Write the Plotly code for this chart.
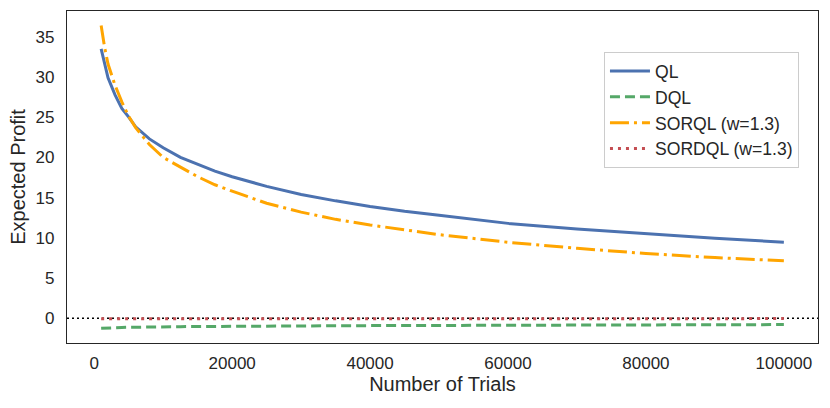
import plotly.graph_objects as go

trials = [1000, 1500, 2000, 3000, 4000, 5000, 6000, 8000, 10000, 12500, 15000, 17500,
          20000, 25000, 30000, 35000, 40000, 45000, 50000, 60000, 70000, 80000, 90000, 100000]
ql = [33.5, 31.5, 29.9, 27.8, 26.1, 25.0, 23.8, 22.3, 21.2, 20.0, 19.1, 18.3,
      17.6, 16.4, 15.4, 14.6, 13.9, 13.3, 12.8, 11.8, 11.1, 10.5, 9.95, 9.45]
dql = [-1.25, -1.22, -1.2, -1.17, -1.14, -1.12, -1.1, -1.08, -1.06, -1.04, -1.02, -1.0,
       -0.99, -0.97, -0.95, -0.93, -0.91, -0.9, -0.88, -0.86, -0.84, -0.82, -0.8, -0.78]
sorql = [36.4, 33.7, 31.6, 29.0, 26.9, 25.1, 23.7, 21.6, 20.0, 18.8, 17.6, 16.6,
         15.8, 14.3, 13.2, 12.3, 11.6, 11.0, 10.4, 9.45, 8.7, 8.05, 7.55, 7.15]
sordql = [-0.05, -0.05, -0.05, -0.05, -0.04, -0.04, -0.04, -0.04, -0.04, -0.04, -0.04, -0.04,
          -0.04, -0.04, -0.04, -0.04, -0.04, -0.04, -0.04, -0.04, -0.04, -0.04, -0.04, -0.04]

x_ticks = [0, 20000, 40000, 60000, 80000, 100000]
y_ticks = [0, 5, 10, 15, 20, 25, 30, 35]

FONT = "Liberation Sans, Arial, sans-serif"
TXT = "#262626"

fig = go.Figure()
fig.add_trace(go.Scatter(x=trials, y=ql, mode="lines", name="QL",
                         line=dict(color="#4C72B0", width=3)))
fig.add_trace(go.Scatter(x=trials, y=dql, mode="lines", name="DQL",
                         line=dict(color="#55A868", width=3, dash="10px,5px")))
fig.add_trace(go.Scatter(x=trials, y=sorql, mode="lines", name="SORQL (w=1.3)",
                         line=dict(color="#FFA500", width=3, dash="19px,5px,3px,5px")))
fig.add_trace(go.Scatter(x=trials, y=sordql, mode="lines", name="SORDQL (w=1.3)",
                         line=dict(color="#C44E52", width=3, dash="3px,5px")))

fig.add_shape(type="line", xref="paper", yref="y", x0=0, x1=1, y0=0, y1=0,
              line=dict(color="black", width=1.5, dash="2px,3px"), layer="below")

fig.update_layout(
    width=830, height=408,
    margin=dict(l=67, r=12, t=11, b=65),
    paper_bgcolor="white", plot_bgcolor="white",
    font=dict(family=FONT, color=TXT, size=17),
    showlegend=True,
    legend=dict(x=0.715, y=0.8765, xanchor="left", yanchor="top",
                bgcolor="white", bordercolor="#cccccc", borderwidth=1,
                font=dict(size=17.6, family=FONT, color=TXT),
                tracegroupgap=0, itemwidth=40),
)
fig.update_xaxes(range=[-3950, 104950], tickvals=x_ticks, tickformat="d",
                 showgrid=False, zeroline=False, ticks="", automargin=False,
                 showline=True, linecolor=TXT, linewidth=1.3, mirror=True,
                 tickfont=dict(size=17), ticklabelstandoff=4,
                 title=dict(text="Number of Trials", font=dict(size=20), standoff=0))
fig.update_yaxes(range=[-3.07, 38.2], tickvals=y_ticks,
                 showgrid=False, zeroline=False, ticks="", automargin=False,
                 showline=True, linecolor=TXT, linewidth=1.3, mirror=True,
                 tickfont=dict(size=17), ticklabelstandoff=8,
                 title=dict(text="Expected Profit", font=dict(size=20), standoff=4))

fig.write_html("out.html", config={"displayModeBar": False},
               post_script="document.body.style.margin='0';")
